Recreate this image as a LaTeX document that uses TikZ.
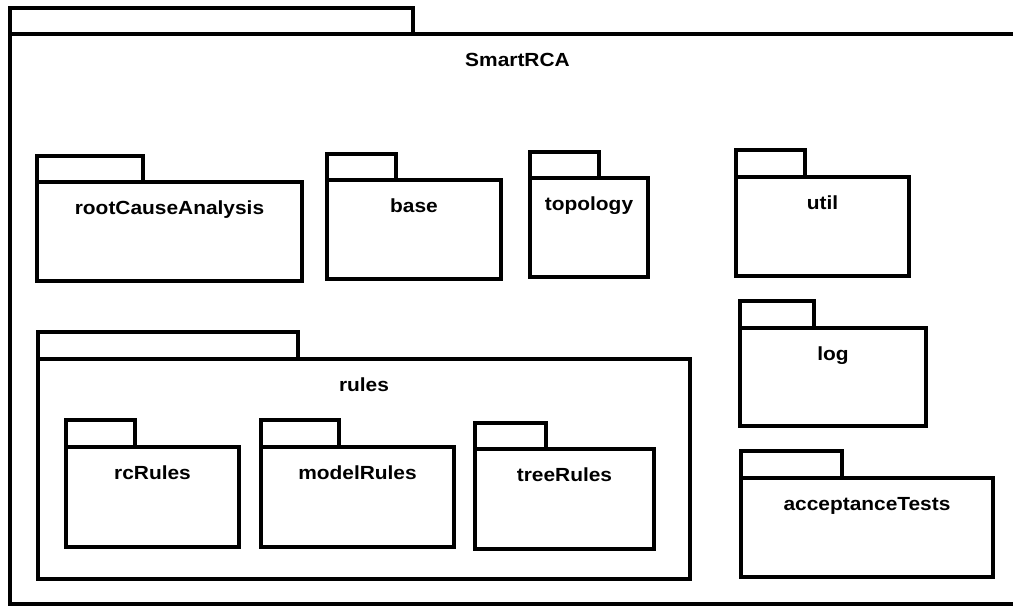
\documentclass[tikz,border=0pt]{standalone}
\usepackage{fontspec}
\setmainfont{Liberation Sans}
\tikzset{
  pkgline/.style={draw=black, line width=3.2pt, line join=miter},
  pkglabel/.style={anchor=base, inner sep=0pt, font=\fontsize{19}{22}\selectfont\bfseries}
}
% #1 name, #2 left, #3 tab top, #4 tab right, #5 body top, #6 right, #7 bottom, #8 label
\newcommand\umlpkg[8]{%
  \draw[pkgline] (#2,#5) -- (#2,#3) -- (#4,#3) -- (#4,#5);
  \draw[pkgline] (#2,#5) rectangle (#6,#7);
  \node[pkglabel] (#1) at ({(#2+#6)/2},{#5+32}) {\scalebox{1.1}[1]{#8}};
}
\begin{document}
\begin{tikzpicture}[x=1pt,y=-1pt]
\useasboundingbox (0,0) rectangle (1013,606);
\clip (0,0) rectangle (1013,606);
\fill[white] (0,0) rectangle (1013,606);
\umlpkg{smartrca}{10}{8}{413}{34}{1025}{604}{SmartRCA}
\umlpkg{rca}{37}{156}{143}{182}{302}{281}{rootCauseAnalysis}
\umlpkg{base}{327}{154}{396}{180}{501}{279}{base}
\umlpkg{topology}{530}{152}{599}{178}{648}{277}{topology}
\umlpkg{util}{736}{150}{805}{177}{909}{276}{util}
\umlpkg{log}{740}{301}{814}{328}{926}{426}{log}
\umlpkg{acc}{741}{451}{842}{478}{993}{577}{acceptanceTests}
\umlpkg{rules}{38}{332}{298}{359}{690}{579}{rules}
\umlpkg{rcrules}{66}{420}{135}{447}{239}{547}{rcRules}
\umlpkg{modelrules}{261}{420}{339}{447}{454}{547}{modelRules}
\umlpkg{treerules}{475}{423}{546}{449}{654}{549}{treeRules}
\end{tikzpicture}
\end{document}
